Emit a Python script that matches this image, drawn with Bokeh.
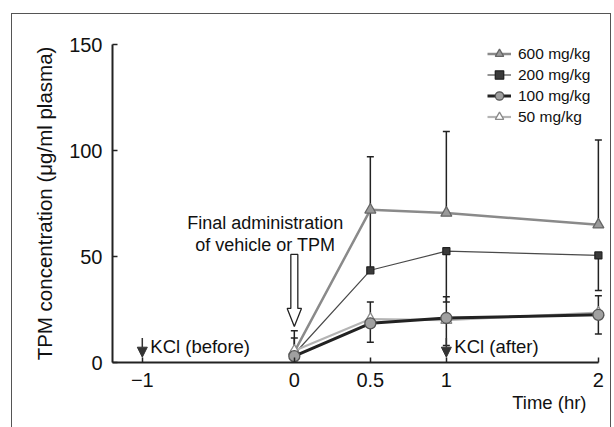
from bokeh.plotting import figure
from bokeh.models import (Range1d, Label, Arrow, NormalHead, FixedTicker,
                          Legend, LegendItem, ColumnDataSource, Title)
from bokeh.embed import file_html
from bokeh.resources import INLINE

# ---------------- data ----------------
time_hr = [0, 0.5, 1, 2]
x_ticks = [-1, 0, 0.5, 1, 2]
x_tick_labels = ["\u22121", "0", "0.5", "1", "2"]
y_ticks = [0, 50, 100, 150]

dose_labels = ["600 mg/kg", "200 mg/kg", "100 mg/kg", "50 mg/kg"]

mean_600 = [5, 72, 70.5, 65]
up_600 = [10, 25, 38.5, 40]
down_600 = [0, 0, 0, 0]

mean_200 = [4, 43.5, 52.5, 50.5]
up_200 = [0, 28, 0, 0]
down_200 = [4, 0, 24, 16.5]

mean_100 = [3, 18.5, 21, 22.5]
up_100 = [0, 0, 0, 0]
down_100 = [3, 9, 13, 9]

mean_50 = [5.5, 20.5, 20, 23.5]
up_50 = [6, 8, 11, 8]
down_50 = [0, 0, 0, 0]

FONT = "Liberation Sans"

p = figure(width=600, height=414, output_backend="svg", toolbar_location=None,
           x_range=Range1d(-1.196, 2.06), y_range=Range1d(0, 150),
           min_border_left=100, min_border_right=5, min_border_top=30,
           min_border_bottom=66, margin=(13, 3, 0, 11),
           styles={"border-top": "1px solid #555", "border-left": "1px solid #555",
                   "border-right": "1px solid #555"})
p.outline_line_color = None
p.grid.visible = False
p.background_fill_color = "white"
p.border_fill_color = "white"

for ax in (p.xaxis[0], p.yaxis[0]):
    ax.axis_line_width = 2
    ax.axis_line_color = "#222222"
    ax.major_tick_in = 5
    ax.major_tick_out = 0
    ax.major_tick_line_width = 1.5
    ax.major_tick_line_color = "#222222"
    ax.minor_tick_line_color = None
    ax.major_label_text_font = FONT
    ax.major_label_text_font_size = "20px"
    ax.major_label_text_color = "#111111"

p.xaxis.ticker = FixedTicker(ticks=x_ticks)
p.xaxis.bounds = (-1.196, 2.0)
p.xaxis.major_label_overrides = {t: l for t, l in zip(x_ticks, x_tick_labels)}
p.xaxis.major_label_standoff = 10
p.yaxis.ticker = FixedTicker(ticks=y_ticks)
p.yaxis.major_label_standoff = 10
p.yaxis.axis_label = "TPM concentration (\u03bcg/ml plasma)"
p.yaxis.axis_label_text_font = FONT
p.yaxis.axis_label_text_font_size = "20.5px"
p.yaxis.axis_label_text_font_style = "normal"
p.yaxis.axis_label_text_color = "#111111"
p.yaxis.axis_label_standoff = 10

series = [
    dict(mean=mean_600, up=up_600, down=down_600, lc="#8a8a8a", lw=2.5,
         marker="triangle", ms=11, fc="#9a9a9a", mc="#666666"),
    dict(mean=mean_200, up=up_200, down=down_200, lc="#4a4a4a", lw=1.2,
         marker="square", ms=7, fc="#3a3a3a", mc="#222222"),
    dict(mean=mean_50, up=up_50, down=down_50, lc="#b4b4b4", lw=2.2,
         marker="triangle", ms=11, fc="white", mc="#8a8a8a"),
    dict(mean=mean_100, up=up_100, down=down_100, lc="#222222", lw=3,
         marker="circle", ms=11, fc="#a0a0a0", mc="#555555"),
]

# error bars
for s in series:
    x0, y0, y1, cx, cy = [], [], [], [], []
    for t, m, u, d in zip(time_hr, s["mean"], s["up"], s["down"]):
        if u > 0:
            x0.append(t); y0.append(m); y1.append(m + u)
            cx.append(t); cy.append(m + u)
        if d > 0:
            x0.append(t); y0.append(m); y1.append(m - d)
            cx.append(t); cy.append(m - d)
    p.segment(x0=x0, y0=y0, x1=x0, y1=y1, line_color="#222222", line_width=1.5)
    p.scatter(x=cx, y=cy, marker="dash", size=7, line_color="#222222", line_width=1.5)

renderers = []
for s in series:
    src = ColumnDataSource(dict(t=time_hr, v=s["mean"]))
    ln = p.line("t", "v", source=src, line_color=s["lc"], line_width=s["lw"])
    sc = p.scatter("t", "v", source=src, marker=s["marker"], size=s["ms"],
                   fill_color=s["fc"], line_color=s["mc"], line_width=1.3)
    renderers.append((ln, sc))

# series order above is 600, 200, 50, 100; legend order is 600, 200, 100, 50
legend_idx = [0, 1, 3, 2]
items = [LegendItem(label=dose_labels[k], renderers=list(renderers[legend_idx[k]]))
         for k in range(4)]
legend = Legend(items=items, location=(375, 235), border_line_color=None,
                background_fill_alpha=0, glyph_width=24, glyph_height=21,
                label_height=21, spacing=0, padding=0, margin=0,
                label_text_font=FONT, label_text_font_size="15.5px",
                label_standoff=7, label_text_color="#111111")
p.add_layout(legend)

# KCl arrows and labels
for tx, txt in [(-1, "KCl (before)"), (1, "KCl (after)")]:
    p.add_layout(Arrow(x_start=tx, y_start=11.5, x_end=tx, y_end=2.5,
                       line_color="#333333", line_width=1.5,
                       end=NormalHead(size=10, fill_color="#333333", line_color="#333333")))
    p.add_layout(Label(x=tx, y=7.5, x_offset=8, text=txt, text_font=FONT,
                       text_font_size="18.5px", text_baseline="middle",
                       text_color="#111111"))

# hollow block arrow at final administration
sw, hw = 0.023, 0.047
top, base, tip = 51, 25.5, 17
p.patch(x=[-sw, sw, sw, hw, 0, -hw, -sw], y=[top, top, base, base, tip, base, base],
        fill_color="white", line_color="#222222", line_width=1.3)

p.add_layout(Label(x=0, y=66, x_offset=-29, text="Final administration",
                   text_font=FONT, text_font_size="18px", text_align="center",
                   text_baseline="middle", text_color="#111111"))
p.add_layout(Label(x=0, y=55.2, x_offset=-29, text="of vehicle or TPM",
                   text_font=FONT, text_font_size="18px", text_align="center",
                   text_baseline="middle", text_color="#111111"))

p.add_layout(Title(text="Time (hr)", align="right", offset=21, standoff=0,
                   text_font=FONT, text_font_size="18.5px", text_font_style="normal",
                   text_color="#111111"), "below")

open("out.html", "w").write(file_html(p, INLINE))
